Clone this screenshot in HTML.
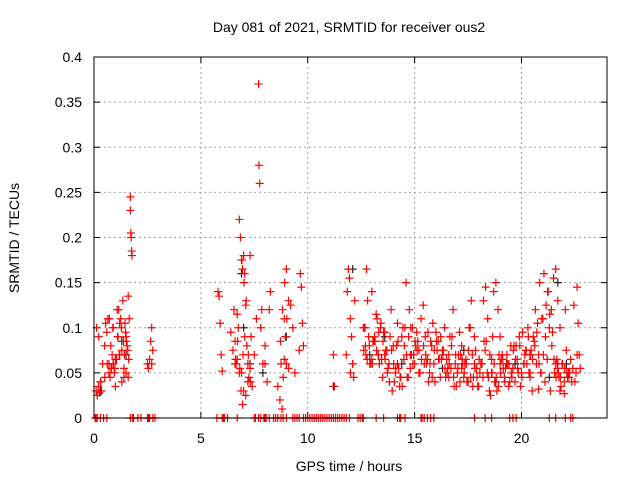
<!DOCTYPE html>
<html><head><meta charset="utf-8"><style>
body{margin:0;background:#fff}
svg{display:block;font-family:"Liberation Sans",sans-serif}
</style></head><body>
<svg id="chart" width="640" height="480" xmlns="http://www.w3.org/2000/svg">
<rect width="640" height="480" fill="#fff"/>
<text x="349" y="32" font-size="14" text-anchor="middle">Day 081 of 2021, SRMTID for receiver ous2</text>
<text x="349" y="471" font-size="14" text-anchor="middle">GPS time / hours</text>
<text transform="translate(19,238) rotate(-90)" font-size="14" text-anchor="middle">SRMTID / TECUs</text>
<g id="grid"></g>
<g id="ticks"></g>
<g id="marks"></g>
<rect x="94" y="57" width="513" height="361" fill="none" stroke="#000" stroke-width="1"/>
</svg>
<script>
const xTicks=[0,5,10,15,20];
const yTicks=[0,0.05,0.1,0.15,0.2,0.25,0.3,0.35,0.4];
const yTickLabels=["0","0.05","0.1","0.15","0.2","0.25","0.3","0.35","0.4"];
const redHours=[0.1,0.15,0.2,0.25,0.3,0.35,0.4,0.5,0.55,0.6,0.65,0.7,0.75,0.8,0.85,0.9,0.95,1.0,1.05,1.1,1.15,1.2,1.25,1.3,1.35,1.4,1.45,1.5,1.55,1.6,1.65,1.7,1.7,1.72,1.74,1.76,1.78,2.5,2.55,2.6,2.65,2.7,2.75,2.7,
5.8,5.85,5.9,5.95,6.0,6.4,6.5,6.55,6.6,6.65,6.7,6.75,6.8,6.85,6.9,6.95,7.0,7.05,7.1,7.15,7.2,7.25,7.3,7.35,7.4,7.5,7.6,7.7,7.72,7.75,7.8,7.85,7.9,8.0,8.1,8.2,8.25,8.6,8.7,8.75,8.8,8.85,8.9,8.95,9.0,9.1,9.2,9.3,9.4,9.6,9.65,9.7,9.75,9.8,11.2,11.25,11.8,11.85,11.9,11.95,12.0,12.05,12.1,12.15,12.2,
12.6,12.7,12.75,12.8,12.85,12.9,13.0,13.1,13.2,13.3,13.4,13.5,13.6,13.7,13.8,13.9,14.0,14.1,14.2,14.3,14.4,14.5,14.6,14.7,14.8,14.9,15.0,15.1,15.2,15.3,15.4,15.5,15.6,15.7,15.8,15.9,16.0,16.1,16.2,16.3,16.4,16.5,16.6,16.7,16.8,16.9,17.0,17.1,17.2,17.3,17.4,17.5,17.6,17.7,17.8,17.9,18.0,18.1,18.2,18.3,18.4,18.5,18.6,18.7,18.8,18.9,19.0,19.1,19.2,19.3,19.4,19.5,19.6,19.7,19.8,19.9,20.0,20.1,20.2,20.3,20.4,20.5,20.6,20.7,20.8,20.9,21.0,21.1,21.2,21.3,21.4,21.5,21.6,21.7,21.8,21.9,22.0,22.1,22.2,22.3,22.4,22.5,22.6,22.7,
12.65,12.95,13.05,13.25,13.45,13.55,13.75,13.95,14.15,14.35,14.55,14.75,14.95,15.15,15.45,15.65,15.85,16.05,16.25,16.45,16.65,16.85,17.05,17.25,17.45,17.65,17.85,18.05,18.25,18.45,18.65,18.85,19.05,19.25,19.45,19.65,19.85,20.05,20.25,20.45,20.65,20.85,21.05,21.25,21.45,21.55,21.65,21.75,21.85,22.05,22.25,22.45,22.65,
12.72,13.15,13.35,13.65,13.85,14.05,14.25,14.45,14.65,14.85,15.05,15.25,15.55,15.75,15.95,16.15,16.35,16.55,16.75,16.95,17.15,17.35,17.55,17.75,17.95,18.15,18.35,18.55,18.75,18.95,19.15,19.35,19.55,19.75,19.95,20.15,20.35,20.55,20.75,20.95,21.15,21.35,21.6,21.62,21.68,21.7,22.15,22.35,22.55,22.75,
0.5,0.7,0.9,1.0,1.2,1.3,1.4,1.5,1.6,6.6,6.7,6.8,6.9,7.0,7.1,7.2,7.3,8.0,8.9,9.0,9.1,12.0,12.1,13.0,13.3,13.6,14.2,14.8,15.2,16.6,17.2,17.8,18.6,19.0,19.6,20.4,20.8,21.8,22.0,22.6,
0.12,0.22,0.32,0.62,0.78,0.88,0.98,1.08,1.18,1.28,1.38,1.48,1.58,1.62,1.52,1.42,1.12,0.82,0.72,6.62,6.72,6.82,6.92,7.02,7.12,7.22,7.32,6.88,6.95,6.97,7.05,8.82,8.92,9.02,8.72,
12.62,12.68,12.78,12.88,13.02,13.12,13.22,13.32,13.42,13.52,13.62,13.72,13.82,13.92,14.02,14.12,14.22,14.32,14.42,14.52,14.62,14.72,14.82,14.92,15.02,15.12,15.22,15.32,15.42,15.52,15.62,15.72,15.82,15.92,16.02,16.12,16.22,16.32,16.42,16.52,16.62,16.72,16.82,16.92,17.02,17.12,17.22,17.32,17.42,17.52,17.62,17.72,17.82,17.92,18.02,18.12,18.22,18.32,18.42,18.52,18.62,18.72,18.82,18.92,19.02,19.12,19.22,19.32,19.42,19.52,19.62,19.72,19.82,19.92,20.02,20.12,20.22,20.32,20.42,20.52,20.62,20.72,20.82,20.92,21.02,21.12,21.22,21.32,21.42,21.52,21.72,21.82,21.92,22.02,22.12,22.22,22.32,22.42,22.52,22.62,22.72];
const redValues=[0.03,0.025,0.035,0.028,0.04,0.03,0.06,0.08,0.105,0.095,0.11,0.06,0.045,0.055,0.07,0.1,0.05,0.035,0.065,0.09,0.12,0.105,0.11,0.075,0.13,0.045,0.105,0.09,0.08,0.135,0.11,0.245,0.23,0.205,0.2,0.185,0.18,0.06,0.055,0.065,0.085,0.1,0.075,0.06,
0.14,0.135,0.105,0.07,0.052,0.095,0.075,0.12,0.085,0.06,0.115,0.1,0.22,0.2,0.175,0.165,0.18,0.16,0.125,0.08,0.06,0.045,0.18,0.09,0.035,0.07,0.11,0.37,0.28,0.26,0.1,0.12,0.06,0.08,0.04,0.12,0.14,0.035,0.02,0.06,0.01,0.045,0.11,0.09,0.165,0.13,0.125,0.1,0.05,0.075,0.16,0.145,0.105,0.08,0.07,0.035,0.07,0.14,0.165,0.155,0.11,0.09,0.06,0.045,0.13,0.1,
0.08,0.165,0.13,0.09,0.06,0.14,0.085,0.115,0.07,0.1,0.045,0.095,0.075,0.06,0.12,0.08,0.05,0.105,0.035,0.09,0.065,0.15,0.045,0.07,0.1,0.06,0.095,0.075,0.11,0.125,0.09,0.065,0.05,0.08,0.06,0.095,0.085,0.045,0.075,0.1,0.065,0.07,0.055,0.12,0.06,0.05,0.095,0.08,0.045,0.065,0.04,0.1,0.07,0.09,0.055,0.035,0.06,0.045,0.075,0.05,0.03,0.065,0.14,0.15,0.12,0.09,0.07,0.045,0.06,0.035,0.08,0.055,0.04,0.065,0.09,0.05,0.06,0.075,0.1,0.045,0.03,0.085,0.06,0.07,0.05,0.11,0.04,0.065,0.1,0.12,0.155,0.165,0.13,0.1,0.06,0.04,0.075,0.05,0.065,0.055,
0.04,0.145,0.07,0.1,0.06,0.085,0.11,0.065,0.095,0.055,0.03,0.08,0.045,0.1,0.12,0.07,0.085,0.06,0.04,0.105,0.075,0.065,0.045,0.09,0.035,0.07,0.06,0.04,0.13,0.075,0.05,0.085,0.045,0.09,0.03,0.065,0.055,0.04,0.08,0.05,0.095,0.06,0.075,0.12,0.15,0.16,0.14,0.095,0.05,0.065,0.045,0.035,
0.12,0.05,0.125,0.105,0.07,0.085,0.06,0.075,0.09,0.04,0.055,0.1,0.045,0.07,0.08,0.05,0.06,0.085,0.04,0.065,0.075,0.055,0.09,0.035,0.07,0.06,0.1,0.045,0.035,0.06,0.085,0.025,0.04,0.07,0.055,0.06,0.045,0.08,0.035,0.07,0.05,0.09,0.105,0.11,0.125,0.03,0.06,0.045,0.055,0.06,
0.045,0.04,0.05,0.055,0.045,0.05,0.06,0.065,0.07,0.04,0.055,0.05,0.045,0.06,0.065,0.05,0.05,0.03,0.025,0.04,0.055,0.06,0.065,0.06,0.055,0.05,0.06,0.065,0.07,0.07,0.06,0.055,0.05,0.045,0.055,0.06,0.05,0.06,0.055,0.05,
0.032,0.03,0.027,0.07,0.1,0.09,0.04,0.06,0.08,0.1,0.055,0.12,0.07,0.1,0.085,0.095,0.075,0.065,0.085,0.07,0.09,0.055,0.11,0.065,0.085,0.055,0.175,0.15,0.13,0.07,0.04,0.03,0.015,0.07,
0.09,0.12,0.15,0.11,0.085,0.075,0.1,0.065,0.08,0.06,0.09,0.075,0.095,0.105,0.085,0.065,0.05,0.04,0.075,0.06,0.055,0.085,0.045,0.035,0.08,0.07,0.09,0.1,0.06,0.085,0.075,0.05,0.065,0.08,0.07,0.095,0.06,0.045,0.075,0.085,0.065,0.09,0.07,0.055,0.05,0.06,0.08,0.045,0.07,0.055,0.04,0.065,0.05,0.06,0.075,0.045,0.035,0.055,0.045,0.065,0.06,0.13,0.145,0.11,0.07,0.05,0.06,0.045,0.035,0.05,0.065,0.04,0.07,0.06,0.05,0.075,0.065,0.055,0.08,0.045,0.06,0.075,0.09,0.07,0.065,0.08,0.095,0.06,0.05,0.07,0.09,0.14,0.115,0.08,0.065,0.05,0.045,0.06,0.055,0.05,0.045];
const blackHours=[0.3,0.9,1.3,1.5,6.9,7.0,7.3,7.9,9.0,11.2,12.1,12.9,13.6,14.4,16.3,17.3,18.8,19.7,20.4,21.3,21.7,22.1];
const blackValues=[0.03,0.06,0.085,0.07,0.16,0.1,0.06,0.05,0.09,0.035,0.165,0.07,0.09,0.06,0.055,0.075,0.04,0.06,0.07,0.045,0.15,0.06];
const zeroHours=[0.05,0.1,0.15,0.3,0.45,0.6,1.7,1.8,1.85,2.05,2.2,2.5,2.55,2.6,2.75,2.85,5.75,6.0,6.05,6.1,6.25,6.7,7.5,7.55,7.7,7.8,7.95,8.0,8.05,8.2,8.4,8.5,8.6,8.75,8.85,9.0,9.3,9.4,9.5,9.6,9.8,9.9,10.0,10.1,10.2,10.3,10.4,10.5,10.6,10.7,10.8,10.9,11.0,11.1,11.2,11.3,11.4,11.5,11.6,11.7,11.8,11.95,12.35,12.45,12.55,12.6,13.2,13.55,14.2,14.3,14.35,14.55,15.3,15.35,15.45,15.6,15.75,15.9,17.8,18.3,18.6,19.45,19.6,19.75,21.3,21.6,22.05,22.3,22.4];
const X=h=>94+h*(513/24);
const Y=v=>418-v*(361/0.4);
const NS="http://www.w3.org/2000/svg";
const grid=document.getElementById('grid'),ticks=document.getElementById('ticks'),marks=document.getElementById('marks');
function mk(tag,attrs,parent){const e=document.createElementNS(NS,tag);for(const k in attrs)e.setAttribute(k,attrs[k]);parent.appendChild(e);return e;}
xTicks.forEach(t=>{const x=X(t);
 if(t>0){const g=mk('line',{x1:x,y1:57,x2:x,y2:418,stroke:'#a0a0a0','stroke-dasharray':'2,3'},grid);
 
 }
 const a=mk('line',{x1:x,y1:418,x2:x,y2:412,stroke:'#000'},ticks);
 
 
 const b=mk('line',{x1:x,y1:57,x2:x,y2:63,stroke:'#000'},ticks);
 
 
 const l=mk('text',{x:x,y:443,'font-size':14,'text-anchor':'middle'},ticks);l.textContent=t;
 
 });
yTicks.forEach((t,i)=>{const y=Y(t);
 if(t>0&&t<0.4){const g=mk('line',{x1:94,y1:y,x2:607,y2:y,stroke:'#a0a0a0','stroke-dasharray':'2,3'},grid);
 
 }
 const a=mk('line',{x1:94,y1:y,x2:100,y2:y,stroke:'#000'},ticks);
 
 
 const b=mk('line',{x1:601,y1:y,x2:607,y2:y,stroke:'#000'},ticks);
 
 
 const l=mk('text',{x:82,y:y+5,'font-size':14,'text-anchor':'end'},ticks);l.textContent=yTickLabels[i];
 
 });
function cross(h,v,c,name){const x=X(h),y=Y(v);
 const p=mk('path',{d:`M${x-4},${y}H${x+4}M${x},${y-4}V${y+4}`,stroke:c,'stroke-width':1.2,fill:'none'},marks);
 
 }
blackHours.forEach((h,i)=>cross(h,blackValues[i],'#222','black-point'));
redHours.forEach((h,i)=>cross(h,redValues[i],'#ff0000','red-point'));
zeroHours.forEach(h=>cross(h,0,'#ff0000','zero-point'));
</script>
</body></html>
